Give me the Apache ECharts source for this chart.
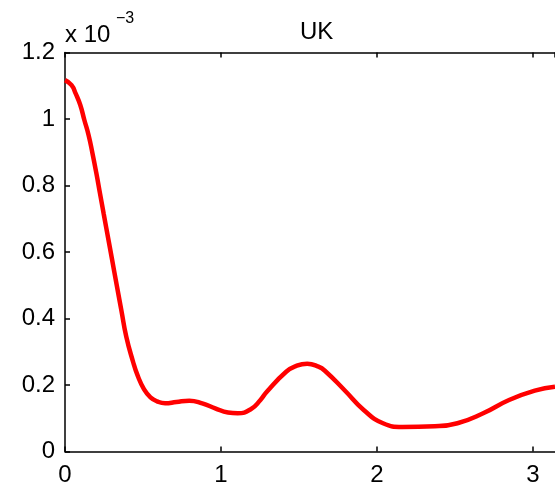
<!DOCTYPE html>
<html>
<head>
<meta charset="utf-8">
<script src="https://cdn.jsdelivr.net/npm/echarts@6/dist/echarts.min.js"></script>
<style>html,body{margin:0;padding:0;background:#fff;}#c{width:555px;height:491px;}</style>
</head>
<body>
<div id="c"></div>
<script>
// x values and spectrum values (in units of 1e-3)
var xVals = [0, 0.042, 0.068, 0.098, 0.124, 0.151, 0.176, 0.201, 0.224, 0.248, 0.280, 0.300, 0.331, 0.362, 0.393, 0.435, 0.466, 0.507, 0.548, 0.590, 0.642, 0.714, 0.797, 0.880, 0.963, 1.045, 1.107, 1.191, 1.253, 1.294, 1.418, 1.480, 1.553, 1.625, 1.666, 1.791, 1.915, 2.039, 2.163, 2.371, 2.516, 2.681, 2.847, 3.012, 3.1416];
var yVals = [1.117, 1.102, 1.077, 1.042, 0.997, 0.952, 0.897, 0.837, 0.777, 0.715, 0.633, 0.582, 0.502, 0.423, 0.345, 0.272, 0.228, 0.187, 0.163, 0.151, 0.145, 0.149, 0.153, 0.145, 0.130, 0.117, 0.115, 0.127, 0.155, 0.180, 0.240, 0.257, 0.264, 0.255, 0.243, 0.185, 0.125, 0.085, 0.074, 0.076, 0.085, 0.115, 0.155, 0.183, 0.195];
var xTicks = [0, 1, 2, 3];
var yTicks = [0, 0.2, 0.4, 0.6, 0.8, 1, 1.2];
var titleText = 'UK';
var scaleText = 'x 10';
var scaleExp = '\u22123';

var data = xVals.map(function (x, i) { return [x, yVals[i]]; });
var font = 'Liberation Sans, Arial, Helvetica, sans-serif';
var chart = echarts.init(document.getElementById('c'), null, {renderer: 'canvas'});
var axisCommon = {
  axisLine: {show: true, onZero: false, lineStyle: {color: '#000', width: 1.5}},
  axisTick: {show: true, inside: true, length: 5, lineStyle: {color: '#000', width: 1.5}},
  splitLine: {show: false}
};
chart.setOption({
  animation: false,
  backgroundColor: '#fff',
  grid: {left: 65, top: 52.5, width: 506, height: 399, containLabel: false},
  xAxis: [
    Object.assign({
      type: 'value', min: 0, max: Math.PI, interval: 1, position: 'bottom',
      axisLabel: {show: true, color: '#000', fontSize: 24, fontFamily: font, margin: 12, showMaxLabel: false,
        formatter: function (v) { var r = Math.round(v); return (xTicks.indexOf(r) >= 0 && Math.abs(v - r) < 1e-6) ? String(r) : ''; }}
    }, axisCommon),
    Object.assign({
      type: 'value', min: 0, max: Math.PI, interval: 1, position: 'top',
      axisLabel: {show: false}
    }, axisCommon)
  ],
  yAxis: [
    Object.assign({
      type: 'value', min: 0, max: 1.2, interval: 0.2, position: 'left',
      axisLabel: {show: true, color: '#000', fontSize: 24, fontFamily: font, margin: 10,
        formatter: function (v) { return String(parseFloat(v.toFixed(1))); }}
    }, axisCommon)
  ],
  series: [{
    type: 'line', data: data, xAxisIndex: 0, yAxisIndex: 0,
    showSymbol: false, smooth: 0.5, clip: false,
    lineStyle: {color: '#ff0000', width: 4.5}
  }],
  graphic: [
    {type: 'text', left: 300, top: 20, style: {text: titleText, fill: '#000', font: '24px ' + font}},
    {type: 'text', left: 65, top: 23, style: {text: scaleText, fill: '#000', font: '24px ' + font}},
    {type: 'text', left: 116, top: 11, style: {text: scaleExp, fill: '#000', font: '16px ' + font}}
  ]
});
</script>
</body>
</html>
